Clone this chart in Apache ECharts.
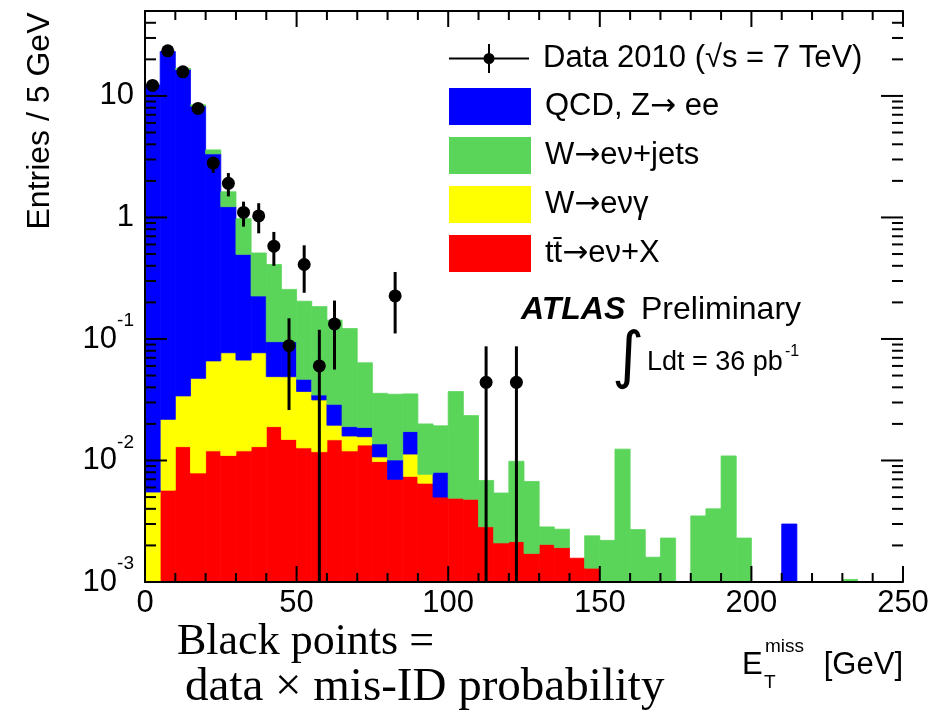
<!DOCTYPE html>
<html><head><meta charset="utf-8">
<script src="https://cdn.jsdelivr.net/npm/echarts@6/dist/echarts.min.js"></script>
<style>html,body{margin:0;padding:0;background:#fff}#c{width:949px;height:715px}</style>
</head><body><div id="c"></div>
<script>
// ---- data (entries per 5 GeV bin, 0..250 GeV) ----
const binWidth = 5;
const ttbar = [0, 0.0057, 0.013, 0.0079, 0.012, 0.011, 0.012, 0.013, 0.019, 0.0149,
  0.0127, 0.0118, 0.0148, 0.012, 0.0134, 0.0098, 0.0070, 0.0074, 0.0065, 0.0050,
  0.0049, 0.0048, 0.00285, 0.0021, 0.00215, 0.00172, 0.00204, 0.00192, 0.00157, 0.0013,
  0, 0, 0, 0, 0, 0, 0, 0, 0, 0,
  0, 0, 0, 0, 0, 0, 0, 0, 0, 0];
const wgamma = [0.0055, 0.0161, 0.021, 0.0395, 0.054, 0.066, 0.055, 0.064, 0.030, 0.034,
  0.0243, 0.0197, 0.0047, 0.0039, 0.0023, 0.0009, 0, 0.0039, 0.0012, 0,
  0, 0, 0, 0, 0, 0, 0, 0, 0, 0,
  0, 0, 0, 0, 0, 0, 0, 0, 0, 0,
  0, 0, 0, 0, 0, 0, 0, 0, 0, 0];
const qcd = [12.3, 23.2, 16.5, 8.2, 3.27, 1.15, 0.43, 0.149, 0.046, 0.046,
  0.0096, 0.0031, 0.0095, 0.0031, 0.003, 0.003, 0.0031, 0.006, 0, 0.003,
  0, 0, 0, 0, 0, 0, 0, 0, 0, 0,
  0, 0, 0, 0, 0, 0, 0, 0, 0, 0,
  0, 0, 0.003, 0, 0, 0, 0, 0, 0, 0];
const wjets = [0, 0, 0.3, 0.2, 0.26, 0.40, 0.48, 0.284, 0.315, 0.161,
  0.158, 0.150, 0.114, 0.103, 0.045, 0.022, 0.025, 0.018, 0.0123, 0.0113,
  0.032, 0.0186, 0.0040, 0.0033, 0.0077, 0.0050, 0.0008, 0.0008, 0, 0.0011,
  0.0022, 0.0124, 0.0027, 0.0016, 0.0023, 0, 0.0035, 0.0040, 0.0109, 0.0023,
  0, 0, 0, 0, 0, 0, 0.00105, 0, 0, 0];

const dataCenters = [2.5, 7.5, 12.5, 17.5, 22.5, 27.5, 32.5, 37.5, 42.5, 47.5, 52.5, 57.5, 62.5, 82.5, 112.5, 122.5];
const dataVals    = [12.2, 23.5, 15.8, 7.9, 2.8, 1.91, 1.10, 1.03, 0.58, 0.088, 0.41, 0.060, 0.133, 0.226, 0.044, 0.044];
const dataLo      = [11.5, 22.3, 14.6, 7.1, 2.33, 1.49, 0.84, 0.74, 0.40, 0.026, 0.24, 0, 0.056, 0.111, 0, 0];
const dataHi      = [13.0, 24.8, 17.0, 8.7, 3.06, 2.32, 1.35, 1.31, 0.76, 0.148, 0.59, 0.119, 0.207, 0.356, 0.087, 0.087];

const xTickValues = [0, 50, 100, 150, 200, 250];
const xMinorTicks = [10, 20, 30, 40, 60, 70, 80, 90, 110, 120, 130, 140, 160, 170, 180, 190, 210, 220, 230, 240];
const yTickExponents = [-3, -2, -1, 0, 1];
const yMajorTicks = [0.001, 0.01, 0.1, 1, 10];
const yMinorTicks = [0.002, 0.003, 0.004, 0.005, 0.006, 0.007, 0.008, 0.009,
  0.02, 0.03, 0.04, 0.05, 0.06, 0.07, 0.08, 0.09,
  0.2, 0.3, 0.4, 0.5, 0.6, 0.7, 0.8, 0.9,
  2, 3, 4, 5, 6, 7, 8, 9, 20, 30, 40];

const NAME_DATA = 'Data 2010 (\u221As = 7 TeV)';
const NAME_QCD = 'QCD, Z\u2192 ee';
const NAME_WJ = 'W\u2192e\u03BD+jets';
const NAME_WG = 'W\u2192e\u03BD\u03B3';
const NAME_TT = 't\u0074\u0304\u2192e\u03BD+X';

// ---- chart ----
const YMIN = 1e-3, YMAX = 50, XMIN = 0, XMAX = 250;
const SANS = '"Liberation Sans", Arial, Helvetica, sans-serif';
const SERIF = '"Liberation Serif", "Times New Roman", serif';

const components = [
  {name: NAME_TT, values: ttbar, color: '#ff0000'},
  {name: NAME_WG, values: wgamma, color: '#ffff00'},
  {name: NAME_QCD, values: qcd, color: '#0000ff'},
  {name: NAME_WJ, values: wjets, color: '#5ad55a'}
];

function rectItem(params, api) {
  const a = api.coord([api.value(0), api.value(3)]);
  const b = api.coord([api.value(1), api.value(2)]);
  const color = api.visual('color');
  return {type: 'rect', shape: {x: a[0], y: a[1], width: b[0] - a[0], height: b[1] - a[1]},
    style: {fill: color, stroke: color, lineWidth: 0.8}};
}

const cum = ttbar.map(() => 0);
const histSeries = components.map(c => {
  const items = [];
  c.values.forEach((v, i) => {
    const lo = cum[i], hi = cum[i] + v;
    cum[i] = hi;
    if (v > 0 && hi > YMIN) items.push([i * binWidth, (i + 1) * binWidth, Math.max(lo, YMIN), hi]);
  });
  return {type: 'custom', name: c.name, coordinateSystem: 'cartesian2d', clip: true, z: 2,
    itemStyle: {color: c.color}, encode: {x: [0, 1], y: [2, 3]}, data: items, renderItem: rectItem};
});

const dataSeries = {
  type: 'custom', name: NAME_DATA, coordinateSystem: 'cartesian2d', z: 6,
  itemStyle: {color: '#000'}, encode: {x: 0, y: [1, 2, 3]},
  data: dataCenters.map((x, i) => [x, dataVals[i], Math.max(dataLo[i], YMIN), dataHi[i]]),
  renderItem: (params, api) => {
    const p = api.coord([api.value(0), api.value(1)]);
    const lo = api.coord([api.value(0), api.value(2)]);
    const hi = api.coord([api.value(0), api.value(3)]);
    return {type: 'group', children: [
      {type: 'line', shape: {x1: p[0], y1: lo[1], x2: p[0], y2: hi[1]}, style: {stroke: '#000', lineWidth: 3}},
      {type: 'circle', shape: {cx: p[0], cy: p[1], r: 6.5}, style: {fill: '#000'}}
    ]};
  }
};

// inward ROOT-style ticks on all four sides: [orientation, value, length]
const tickItems = []
  .concat(yMajorTicks.map(v => [0, v, 22]))
  .concat(yMinorTicks.map(v => [0, v, 11]))
  .concat(xTickValues.map(v => [1, v, 16]))
  .concat(xMinorTicks.map(v => [1, v, 9]));
const tickLine = (x1, y1, x2, y2) => ({type: 'line', shape: {x1, y1, x2, y2}, style: {stroke: '#000', lineWidth: 2}});
const tickSeries = {
  type: 'custom', silent: true, z: 10, coordinateSystem: 'cartesian2d', clip: false,
  data: tickItems,
  renderItem: (params, api) => {
    const kind = api.value(0), v = api.value(1), len = api.value(2);
    if (kind === 0) {
      const l = api.coord([XMIN, v]);
      const r = api.coord([XMAX, v]);
      return {type: 'group', children: [tickLine(l[0], l[1], l[0] + len, l[1]), tickLine(r[0] - len, r[1], r[0], r[1])]};
    }
    const b = api.coord([v, YMIN]);
    const t = api.coord([v, YMAX]);
    return {type: 'group', children: [tickLine(b[0], b[1], b[0], b[1] - len), tickLine(t[0], t[1], t[0], t[1] + len)]};
  }
};

function yLabel(v) {
  const e = Math.log10(v);
  const r = Math.round(e);
  if (Math.abs(e - r) > 1e-6 || yTickExponents.indexOf(r) < 0) return '';
  if (r === 1) return '{n|10}';
  if (r === 0) return '{n|1}';
  return '{b|10}{s|' + r + '}';
}

const axisLineStyle = {lineStyle: {color: '#000', width: 2}};
function xAxisDef(pos, showLabel) {
  return {type: 'value', min: XMIN, max: XMAX, interval: 50, position: pos, z: 10,
    axisLine: axisLineStyle, axisTick: {show: false}, minorTick: {show: false},
    splitLine: {show: false}, minorSplitLine: {show: false},
    axisLabel: {show: showLabel, margin: 6, color: '#000', fontSize: 31, fontFamily: SANS,
      formatter: v => (xTickValues.indexOf(v) >= 0 ? String(v) : '')}};
}
function yAxisDef(pos, showLabel) {
  return {type: 'log', logBase: 10, min: YMIN, max: YMAX, position: pos, z: 10,
    axisLine: axisLineStyle, axisTick: {show: false}, minorTick: {show: false},
    splitLine: {show: false},
    axisLabel: {show: showLabel, margin: 11, color: '#000', formatter: yLabel,
      rich: {
        n: {fontSize: 31, fontFamily: SANS, color: '#000'},
        b: {fontSize: 31, fontFamily: SANS, color: '#000', padding: [12, 0, 12, 0]},
        s: {fontSize: 19, fontFamily: SANS, color: '#000', verticalAlign: 'top'}
      }}};
}

const legendText = {fontSize: 31, fontFamily: SANS, color: '#000', padding: [0, 0, 0, 9],
  rich: {t: {fontSize: 31, fontFamily: SANS, color: '#000'},
         a: {fontSize: 31, fontFamily: '"DejaVu Sans"', color: '#000'}}};
function legendFormatter(name) {
  return name.split('\u2192').map(s => '{t|' + s + '}').join('{a|\u2192}');
}

const chart = echarts.init(document.getElementById('c'), null, {renderer: 'canvas'});
chart.setOption({
  animation: false,
  backgroundColor: '#fff',
  grid: {left: 145, right: 46, top: 11, bottom: 133, containLabel: false, outerBoundsMode: 'none'},
  xAxis: [xAxisDef('bottom', true), xAxisDef('top', false)],
  yAxis: [yAxisDef('left', true), yAxisDef('right', false)],
  legend: [
    {orient: 'vertical', left: 449, top: 43, padding: 0, itemWidth: 80, itemHeight: 29,
      selectedMode: false, textStyle: legendText, formatter: legendFormatter,
      data: [{name: NAME_DATA, icon: 'path://M0,13.5 L80,13.5 L80,15.5 L0,15.5 Z M39,0 L41,0 L41,29 L39,29 Z M34.5,14.5 A5.5,5.5 0 1 1 45.5,14.5 A5.5,5.5 0 1 1 34.5,14.5 Z'}]},
    {orient: 'vertical', left: 449, top: 88, padding: 0, itemWidth: 82, itemHeight: 37, itemGap: 12,
      selectedMode: false, textStyle: legendText, formatter: legendFormatter,
      data: [NAME_QCD, NAME_WJ, NAME_WG, NAME_TT].map(n => ({name: n, icon: 'rect'}))}
  ],
  graphic: [
    {type: 'text', x: 40, y: 121, rotation: Math.PI / 2, silent: true,
      style: {text: 'Entries / 5 GeV', fontSize: 32, fontFamily: SANS, fill: '#000', align: 'center', verticalAlign: 'middle'}},
    {type: 'text', x: 521, y: 310, silent: true,
      style: {text: 'ATLAS', fontSize: 32, fontWeight: 'bold', fontStyle: 'italic', fontFamily: SANS, fill: '#000', align: 'left', verticalAlign: 'middle'}},
    {type: 'text', x: 641, y: 310, silent: true,
      style: {text: 'Preliminary', fontSize: 32, fontFamily: SANS, fill: '#000', align: 'left', verticalAlign: 'middle'}},
    {type: 'text', x: 628, y: 360, silent: true,
      style: {text: '\u222B', fontSize: 62, fontFamily: '"DejaVu Sans"', fill: '#000', align: 'center', verticalAlign: 'middle'}},
    {type: 'text', x: 647, y: 363, silent: true,
      style: {text: 'Ldt = 36 pb', fontSize: 27, fontFamily: SANS, fill: '#000', align: 'left', verticalAlign: 'middle'}},
    {type: 'text', x: 785, y: 352, silent: true,
      style: {text: '-1', fontSize: 16, fontFamily: SANS, fill: '#000', align: 'left', verticalAlign: 'middle'}},
    {type: 'text', x: 742, y: 665, silent: true,
      style: {text: 'E', fontSize: 31, fontFamily: SANS, fill: '#000', align: 'left', verticalAlign: 'middle'}},
    {type: 'text', x: 765, y: 647, silent: true,
      style: {text: 'miss', fontSize: 19, fontFamily: SANS, fill: '#000', align: 'left', verticalAlign: 'middle'}},
    {type: 'text', x: 764, y: 683, silent: true,
      style: {text: 'T', fontSize: 19, fontFamily: SANS, fill: '#000', align: 'left', verticalAlign: 'middle'}},
    {type: 'text', x: 903, y: 665, silent: true,
      style: {text: '[GeV]', fontSize: 31, fontFamily: SANS, fill: '#000', align: 'right', verticalAlign: 'middle'}},
    {type: 'text', x: 177, y: 642, silent: true,
      style: {text: 'Black points =', fontSize: 44, fontFamily: SERIF, fill: '#000', align: 'left', verticalAlign: 'middle'}},
    {type: 'text', x: 185, y: 688, silent: true,
      style: {text: 'data \u00D7 mis-ID probability', fontSize: 47, fontFamily: SERIF, fill: '#000', align: 'left', verticalAlign: 'middle'}}
  ],
  series: histSeries.concat([dataSeries, tickSeries])
});
</script>
</body></html>
